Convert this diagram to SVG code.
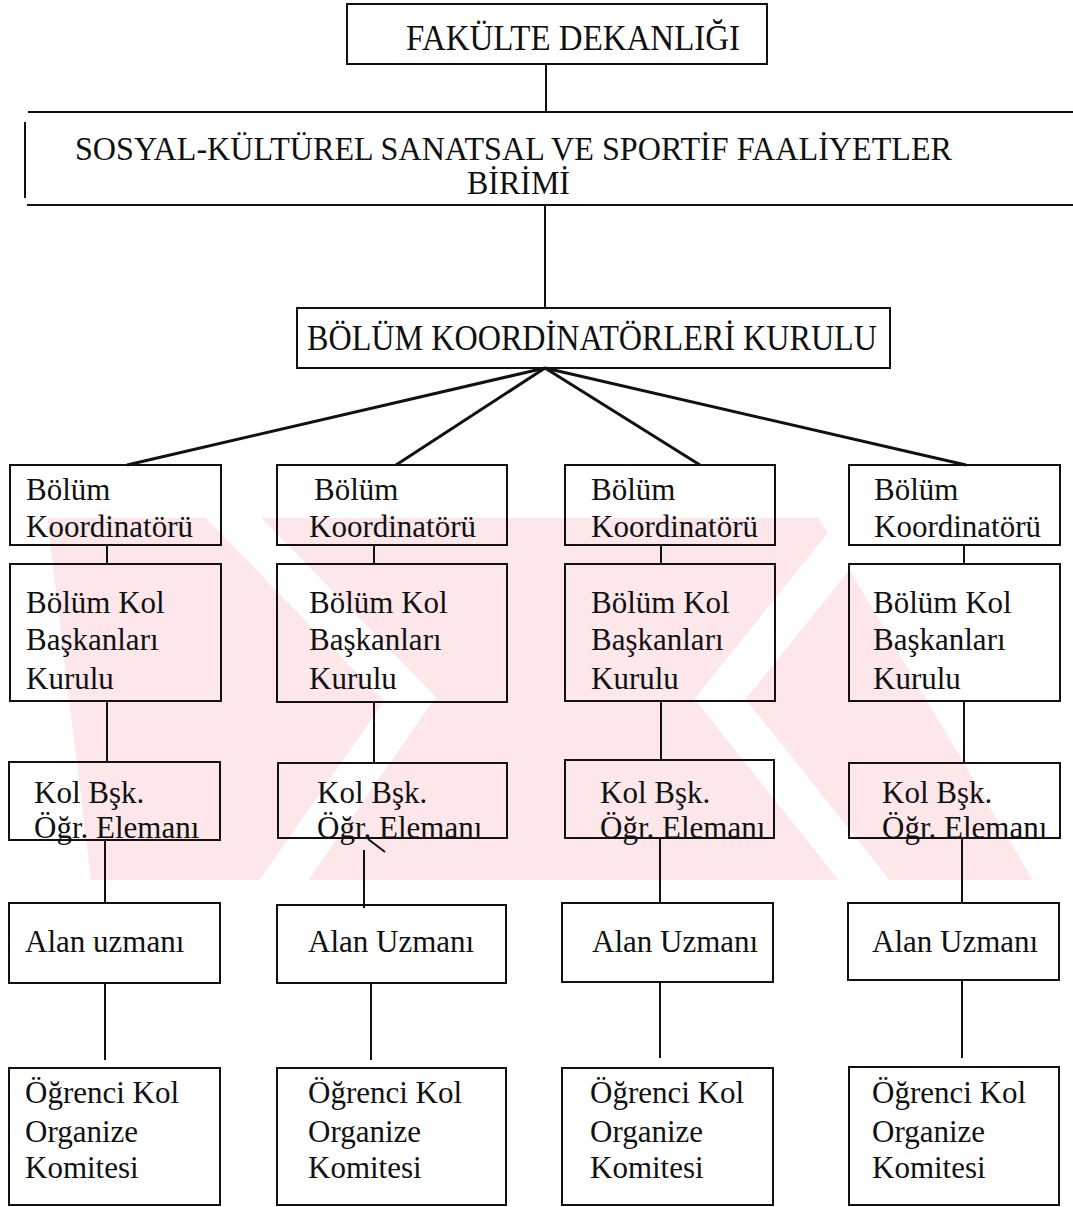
<svg xmlns="http://www.w3.org/2000/svg" width="1073" height="1207" viewBox="0 0 1073 1207">
  <style>
    .box { fill: none; stroke: #111; stroke-width: 2; }
    .edge { fill: none; stroke: #111; stroke-width: 2; }
    .fan { fill: none; stroke: #111; stroke-width: 3; }
    .t { font-family: "Liberation Serif", "Tinos", "DejaVu Serif", "Noto Serif", serif; fill: #111; }
    .cell { font-size: 31px; }
    .mark { fill: #fde7eb; }
    .gap { fill: none; stroke: #ffffff; stroke-width: 40; stroke-linejoin: miter; }
  </style>
  <rect width="1073" height="1207" fill="#ffffff"/>

  <!-- faint background mark with two chevron cut-outs -->
  <g id="watermark">
    <clipPath id="mark-clip">
      <polygon points="47,518 819,518 1033,880 91,880"/>
    </clipPath>
    <polygon class="mark" points="47,518 819,518 1033,880 91,880"/>
    <g clip-path="url(#mark-clip)">
      <polyline class="gap" points="216,500 410,699 270,900"/>
      <polyline class="gap" points="880,500 720,699 880,900"/>
    </g>
  </g>

  <!-- connectors -->
  <g id="connectors">
    <line class="edge" x1="546" y1="64" x2="546" y2="112"/>
    <line class="edge" x1="545" y1="205" x2="545" y2="308"/>
    <line class="fan" x1="545" y1="368" x2="127" y2="465"/>
    <line class="fan" x1="545" y1="368" x2="396" y2="465"/>
    <line class="fan" x1="545" y1="368" x2="700" y2="465"/>
    <line class="fan" x1="545" y1="368" x2="966" y2="465"/>
    <!-- column 1 -->
    <line class="edge" x1="107" y1="545" x2="107" y2="564"/>
    <line class="edge" x1="107" y1="701" x2="107" y2="762"/>
    <line class="edge" x1="105" y1="840" x2="105" y2="903"/>
    <line class="edge" x1="105" y1="983" x2="105" y2="1060"/>
    <!-- column 2 -->
    <line class="edge" x1="374" y1="545" x2="374" y2="564"/>
    <line class="edge" x1="374" y1="702" x2="374" y2="763"/>
    <line class="edge" x1="364" y1="850" x2="364" y2="908"/>
    <line class="edge" x1="368" y1="839" x2="385" y2="852"/>
    <line class="edge" x1="371" y1="983" x2="371" y2="1060"/>
    <!-- column 3 -->
    <line class="edge" x1="661" y1="545" x2="661" y2="564"/>
    <line class="edge" x1="661" y1="701" x2="661" y2="760"/>
    <line class="edge" x1="660" y1="838" x2="660" y2="903"/>
    <line class="edge" x1="660" y1="982" x2="660" y2="1058"/>
    <!-- column 4 -->
    <line class="edge" x1="964" y1="545" x2="964" y2="564"/>
    <line class="edge" x1="964" y1="701" x2="964" y2="763"/>
    <line class="edge" x1="962" y1="838" x2="962" y2="903"/>
    <line class="edge" x1="962" y1="980" x2="962" y2="1058"/>
  </g>

  <g id="fakulte-dekanligi">
    <rect class="box" x="347" y="4" width="420" height="60"/>
    <text class="t" font-family="Liberation Serif, DejaVu Serif, serif" font-size="36" x="406" y="50" textLength="334" lengthAdjust="spacingAndGlyphs">FAKÜLTE DEKANLIĞI</text>
  </g>

  <g id="faaliyetler-birimi">
    <line class="edge" x1="28" y1="112" x2="1073" y2="112"/>
    <line class="edge" x1="27" y1="205" x2="1073" y2="205"/>
    <line class="edge" x1="25" y1="122" x2="25" y2="198"/>
    <text class="t" font-size="33" x="75" y="160" textLength="877" lengthAdjust="spacingAndGlyphs">SOSYAL-KÜLTÜREL SANATSAL VE SPORTİF FAALİYETLER</text>
    <text class="t" font-size="33" x="467" y="194" textLength="103" lengthAdjust="spacingAndGlyphs">BİRİMİ</text>
  </g>

  <g id="koordinatorler-kurulu">
    <rect class="box" x="297" y="308" width="593" height="60"/>
    <text class="t" font-size="35" x="307" y="350" textLength="570" lengthAdjust="spacingAndGlyphs">BÖLÜM KOORDİNATÖRLERİ KURULU</text>
  </g>

  <!-- column 1 -->
  <g id="koordinator-1">
    <rect class="box" x="10" y="465" width="211" height="80"/>
    <text class="t cell" x="26" y="500">Bölüm</text>
    <text class="t cell" x="26" y="537">Koordinatörü</text>
  </g>
  <g id="kol-baskanlari-1">
    <rect class="box" x="10" y="564" width="211" height="137"/>
    <text class="t cell" x="26" y="613">Bölüm Kol</text>
    <text class="t cell" x="26" y="650">Başkanları</text>
    <text class="t cell" x="26" y="689">Kurulu</text>
  </g>
  <g id="ogretim-elemani-1">
    <rect class="box" x="9" y="762" width="211" height="78"/>
    <text class="t cell" x="34" y="803">Kol Bşk.</text>
    <text class="t cell" x="34" y="838">Öğr. Elemanı</text>
  </g>
  <g id="alan-uzmani-1">
    <rect class="box" x="9" y="903" width="211" height="80"/>
    <text class="t cell" x="25" y="952">Alan uzmanı</text>
  </g>
  <g id="organize-komitesi-1">
    <rect class="box" x="9" y="1068" width="211" height="137"/>
    <text class="t cell" x="25" y="1103">Öğrenci Kol</text>
    <text class="t cell" x="25" y="1142">Organize</text>
    <text class="t cell" x="25" y="1178">Komitesi</text>
  </g>

  <!-- column 2 -->
  <g id="koordinator-2">
    <rect class="box" x="277" y="465" width="230" height="80"/>
    <text class="t cell" x="314" y="500">Bölüm</text>
    <text class="t cell" x="309" y="537">Koordinatörü</text>
  </g>
  <g id="kol-baskanlari-2">
    <rect class="box" x="277" y="564" width="230" height="138"/>
    <text class="t cell" x="309" y="613">Bölüm Kol</text>
    <text class="t cell" x="309" y="650">Başkanları</text>
    <text class="t cell" x="309" y="689">Kurulu</text>
  </g>
  <g id="ogretim-elemani-2">
    <rect class="box" x="278" y="763" width="229" height="75"/>
    <text class="t cell" x="317" y="803">Kol Bşk.</text>
    <text class="t cell" x="317" y="838">Öğr. Elemanı</text>
  </g>
  <g id="alan-uzmani-2">
    <rect class="box" x="277" y="905" width="229" height="78"/>
    <text class="t cell" x="308" y="952">Alan Uzmanı</text>
  </g>
  <g id="organize-komitesi-2">
    <rect class="box" x="277" y="1068" width="229" height="137"/>
    <text class="t cell" x="308" y="1103">Öğrenci Kol</text>
    <text class="t cell" x="308" y="1142">Organize</text>
    <text class="t cell" x="308" y="1178">Komitesi</text>
  </g>

  <!-- column 3 -->
  <g id="koordinator-3">
    <rect class="box" x="565" y="465" width="210" height="80"/>
    <text class="t cell" x="591" y="500">Bölüm</text>
    <text class="t cell" x="591" y="537">Koordinatörü</text>
  </g>
  <g id="kol-baskanlari-3">
    <rect class="box" x="565" y="564" width="210" height="137"/>
    <text class="t cell" x="591" y="613">Bölüm Kol</text>
    <text class="t cell" x="591" y="650">Başkanları</text>
    <text class="t cell" x="591" y="689">Kurulu</text>
  </g>
  <g id="ogretim-elemani-3">
    <rect class="box" x="565" y="760" width="209" height="78"/>
    <text class="t cell" x="600" y="803">Kol Bşk.</text>
    <text class="t cell" x="600" y="838">Öğr. Elemanı</text>
  </g>
  <g id="alan-uzmani-3">
    <rect class="box" x="562" y="903" width="211" height="79"/>
    <text class="t cell" x="592" y="952">Alan Uzmanı</text>
  </g>
  <g id="organize-komitesi-3">
    <rect class="box" x="562" y="1068" width="211" height="137"/>
    <text class="t cell" x="590" y="1103">Öğrenci Kol</text>
    <text class="t cell" x="590" y="1142">Organize</text>
    <text class="t cell" x="590" y="1178">Komitesi</text>
  </g>

  <!-- column 4 -->
  <g id="koordinator-4">
    <rect class="box" x="849" y="465" width="211" height="80"/>
    <text class="t cell" x="874" y="500">Bölüm</text>
    <text class="t cell" x="874" y="537">Koordinatörü</text>
  </g>
  <g id="kol-baskanlari-4">
    <rect class="box" x="849" y="564" width="211" height="137"/>
    <text class="t cell" x="873" y="613">Bölüm Kol</text>
    <text class="t cell" x="873" y="650">Başkanları</text>
    <text class="t cell" x="873" y="689">Kurulu</text>
  </g>
  <g id="ogretim-elemani-4">
    <rect class="box" x="849" y="763" width="211" height="75"/>
    <text class="t cell" x="882" y="803">Kol Bşk.</text>
    <text class="t cell" x="882" y="838">Öğr. Elemanı</text>
  </g>
  <g id="alan-uzmani-4">
    <rect class="box" x="848" y="903" width="211" height="77"/>
    <text class="t cell" x="872" y="952">Alan Uzmanı</text>
  </g>
  <g id="organize-komitesi-4">
    <rect class="box" x="849" y="1067" width="210" height="138"/>
    <text class="t cell" x="872" y="1103">Öğrenci Kol</text>
    <text class="t cell" x="872" y="1142">Organize</text>
    <text class="t cell" x="872" y="1178">Komitesi</text>
  </g>
</svg>
